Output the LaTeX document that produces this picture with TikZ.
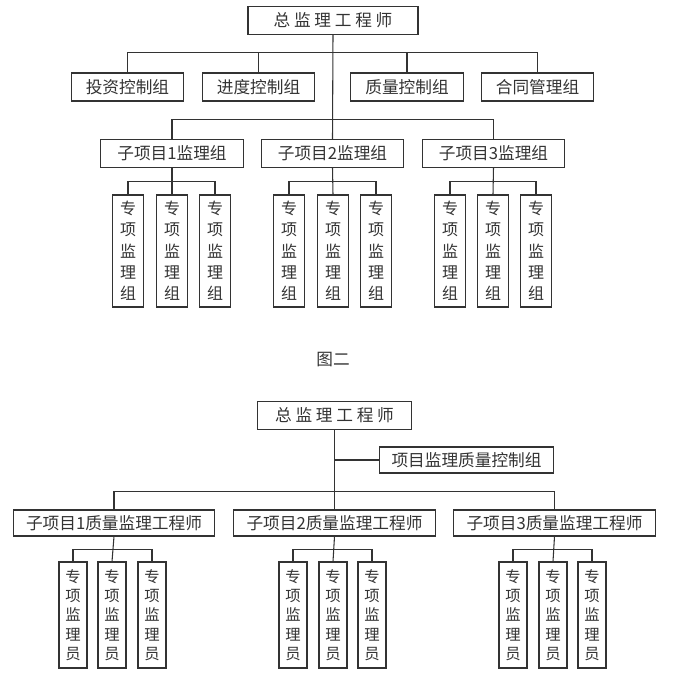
\documentclass[tikz,border=0pt]{standalone}
\usepackage{fontspec}
\setmainfont{Noto Sans CJK SC}
\begin{document}
\begin{tikzpicture}[x=0.75pt,y=-0.75pt,
  box/.style={draw=black!80,line width=0.8pt,inner sep=0pt,text=black!80,font=\fontsize{12.5}{14}\selectfont},
  leafA/.style={box,align=center,font=\fontsize{12}{16}\selectfont},
  leafB/.style={box,align=center,font=\fontsize{11.5}{14.5}\selectfont},
  ln/.style={draw=black!80,line width=0.8pt}]
\useasboundingbox (0,0) rectangle (674,683);
% ===== top =====
\node[box,minimum width=127.5pt,minimum height=20.5pt] (T) at (333,20.5) {总 监 理 工 程 师};
\foreach \n/\x/\t in {a/127.5/投资控制组,b/258.5/进度控制组,c/407/质量控制组,d/537.5/合同管理组}{
  \node[box,minimum width=84.5pt,minimum height=21pt] (\n) at (\x,87) {\t};
}
\foreach \n/\x/\t in {s1/172/子项目1监理组,s2/332.5/子项目2监理组,s3/493.5/子项目3监理组}{
  \node[box,minimum width=107pt,minimum height=20.5pt] (\n) at (\x,153.5) {\t};
}
\foreach \s/\xa/\xb/\xc in {1/128/172/215,2/289/333/376,3/450/493/536}{
  \node[leafA,minimum width=23pt,minimum height=84pt] (l\s a) at (\xa,251) {专\\项\\监\\理\\组};
  \node[leafA,minimum width=23pt,minimum height=84pt] (l\s b) at (\xb,251) {专\\项\\监\\理\\组};
  \node[leafA,minimum width=23pt,minimum height=84pt] (l\s c) at (\xc,251) {专\\项\\监\\理\\组};
  \draw[ln] (s\s.south) -- (l\s b.north);
  \draw[ln] (l\s a.north) -- ++(0,-13) -| (l\s c.north);
}
\draw[ln] (T.south) -- (s2.north);
\draw[ln] (a.north) -- ++(0,-20) -| (b.north);
\draw[ln] (b.north) ++(0,-20) -- ++(148.5,0) -| (c.north);
\draw[ln] (d.north) -- ++(0,-20) -| (c.north);
\draw[ln] (s1.north) -- ++(0,-20) -| (s3.north);
\node[text=black!80,font=\fontsize{12.5}{14}\selectfont] (fig) at (333,360) {图二};
% ===== bottom =====
\node[box,minimum width=116pt,minimum height=20.5pt] (B) at (334.5,415.5) {总 监 理 工 程 师};
\node[box,minimum width=131pt,minimum height=19.5pt] (q) at (466.5,460) {项目监理质量控制组};
\foreach \n/\x/\t in {p1/114/子项目1质量监理工程师,p2/334.5/子项目2质量监理工程师,p3/554.5/子项目3质量监理工程师}{
  \node[box,minimum width=151pt,minimum height=19.5pt] (\n) at (\x,523) {\t};
}
\draw[ln] (B.south) -- (p2.north);
\draw[ln] (q.west) -- (334.5,460);
\draw[ln] (p1.north) -- ++(0,-18) -| (p3.north);
\foreach \s/\xa/\xb/\xc in {1/73/112/152,2/293/333/372,3/513/553/592}{
  \node[leafB,minimum width=21pt,minimum height=79.5pt] (r\s a) at (\xa,615) {专\\项\\监\\理\\员};
  \node[leafB,minimum width=21pt,minimum height=79.5pt] (r\s b) at (\xb,615) {专\\项\\监\\理\\员};
  \node[leafB,minimum width=21pt,minimum height=79.5pt] (r\s c) at (\xc,615) {专\\项\\监\\理\\员};
  \draw[ln] (p\s.south) -- (r\s b.north);
  \draw[ln] (r\s a.north) -- ++(0,-12) -| (r\s c.north);
}
\end{tikzpicture}
\end{document}
